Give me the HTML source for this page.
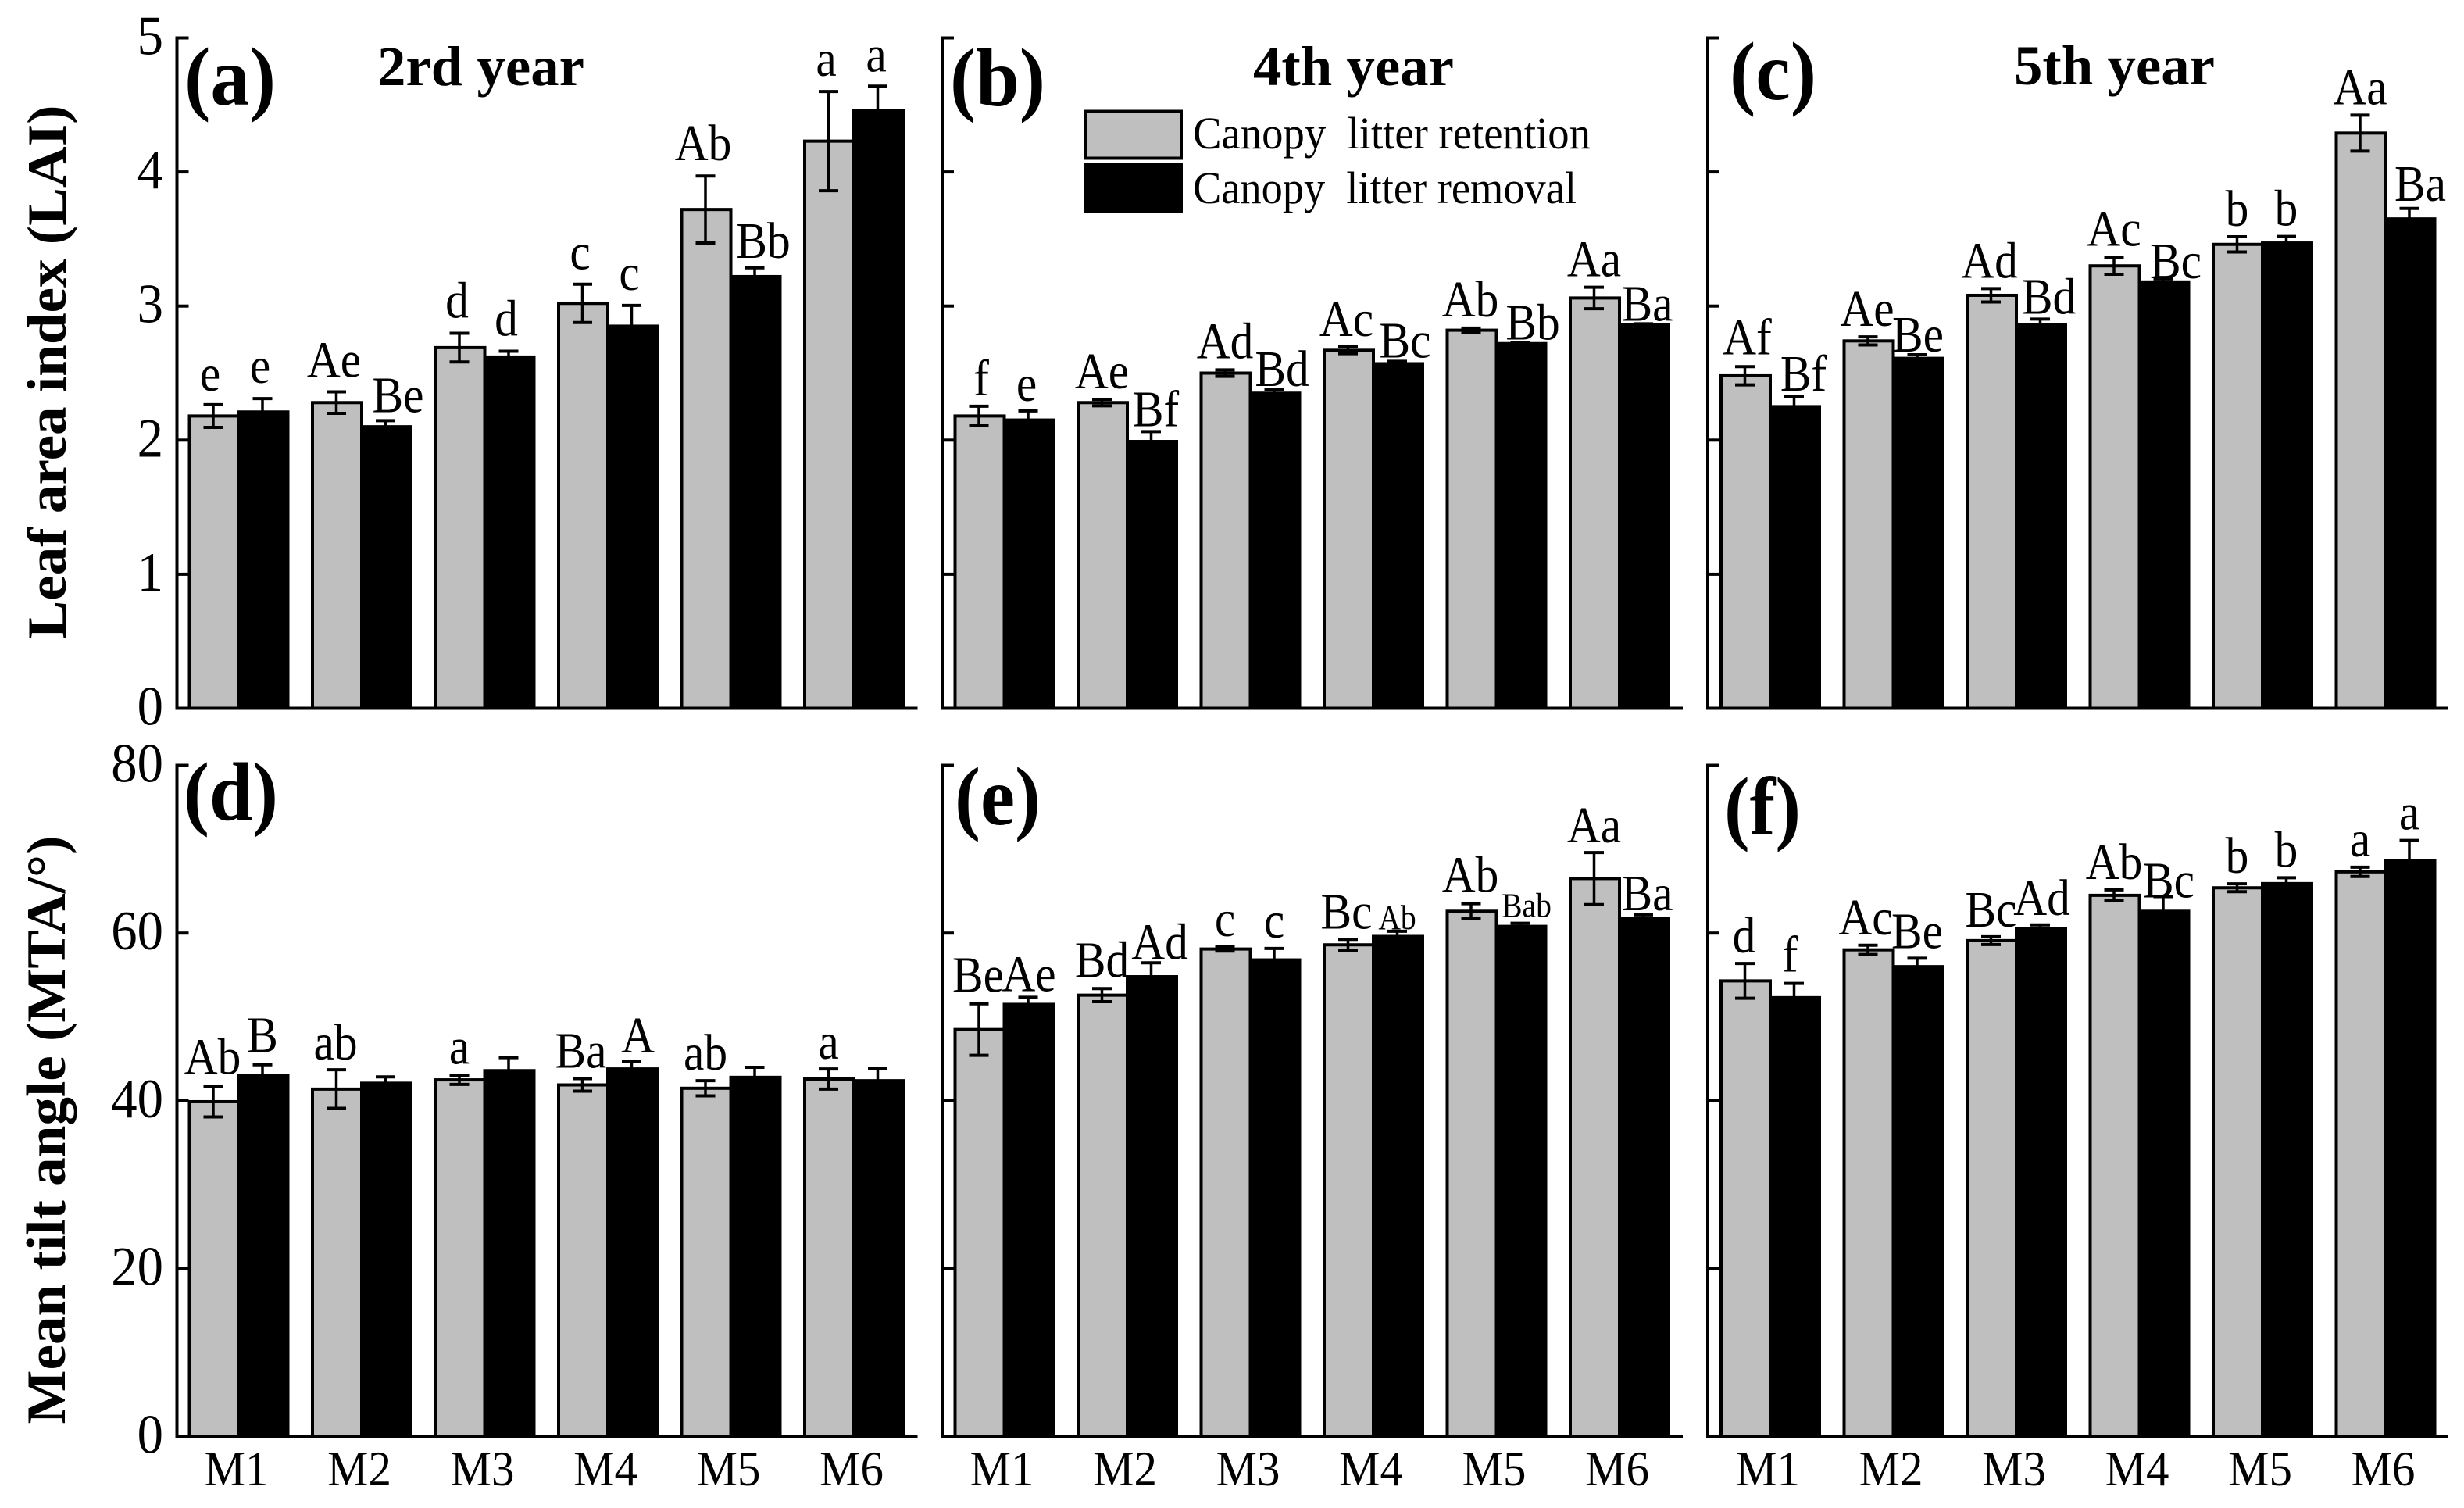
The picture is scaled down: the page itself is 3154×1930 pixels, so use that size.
<!DOCTYPE html>
<html lang="en">
<head>
<meta charset="utf-8">
<title>Leaf area index and mean tilt angle by month</title>
<style>
  html,body{margin:0;padding:0;background:#fff;}
  svg{display:block;}
  text{font-family:"Liberation Serif",serif;fill:#000;white-space:pre;}
  .bold{font-weight:bold;}
</style>
</head>
<body>
<svg id="chart" xmlns="http://www.w3.org/2000/svg" width="3154" height="1930" viewBox="0 0 3154 1930">
  <rect x="0" y="0" width="3154" height="1930" fill="#fff"/>
  <text class="bold" transform="translate(84,476) rotate(-90)" text-anchor="middle" font-size="71" textLength="683" lengthAdjust="spacingAndGlyphs">Leaf area index (LAI)</text>
  <text class="bold" transform="translate(83,1446) rotate(-90)" text-anchor="middle" font-size="71" textLength="753" lengthAdjust="spacingAndGlyphs">Mean tilt angle (MTA/°)</text>
  <text class="bold" x="483" y="109" font-size="72" textLength="265" lengthAdjust="spacingAndGlyphs">2rd year</text>
  <text class="bold" x="1604" y="109" font-size="72" textLength="257" lengthAdjust="spacingAndGlyphs">4th year</text>
  <text class="bold" x="2578" y="108" font-size="72" textLength="257" lengthAdjust="spacingAndGlyphs">5th year</text>
  <g id="plots"></g>
  <text class="bold" x="236" y="134" font-size="106" textLength="117" lengthAdjust="spacingAndGlyphs">(a)</text>
  <text class="bold" x="1216" y="135" font-size="106" textLength="122" lengthAdjust="spacingAndGlyphs">(b)</text>
  <text class="bold" x="2214" y="127" font-size="106" textLength="111" lengthAdjust="spacingAndGlyphs">(c)</text>
  <text class="bold" x="235" y="1049" font-size="106" textLength="121" lengthAdjust="spacingAndGlyphs">(d)</text>
  <text class="bold" x="1222" y="1055" font-size="106" textLength="110" lengthAdjust="spacingAndGlyphs">(e)</text>
  <text class="bold" x="2207" y="1068" font-size="106" textLength="98" lengthAdjust="spacingAndGlyphs">(f)</text>
  <g>
    <rect x="1389" y="142.5" width="123" height="60" fill="#bfbfbf" stroke="#000" stroke-width="4"/>
    <text x="1527" y="190" font-size="58" textLength="509" lengthAdjust="spacingAndGlyphs">Canopy&#160; litter retention</text>
    <rect x="1389" y="211" width="123" height="60" fill="#000" stroke="#000" stroke-width="4"/>
    <text x="1527" y="260" font-size="58" textLength="491" lengthAdjust="spacingAndGlyphs">Canopy&#160; litter removal</text>
  </g>
</svg>
<script>
// ---- chart data ----
const months = ['M1', 'M2', 'M3', 'M4', 'M5', 'M6'];
const laiTicks = [0, 1, 2, 3, 4, 5];
const mtaTicks = [0, 20, 40, 60, 80];

const laiRetentionY2 = [2.18, 2.28, 2.69, 3.02, 3.72, 4.23];
const laiRetentionErrY2 = [0.085, 0.08, 0.107, 0.143, 0.25, 0.37];
const laiRemovalY2 = [2.21, 2.10, 2.62, 2.85, 3.22, 4.46];
const laiRemovalErrY2 = [0.10, 0.045, 0.043, 0.155, 0.065, 0.18];
const laiRetentionSigY2 = ['e', 'Ae', 'd', 'c', 'Ab', 'a'];
const laiRemovalSigY2 = ['e', 'Be', 'd', 'c', 'Bb', 'a'];

const laiRetentionY4 = [2.18, 2.28, 2.50, 2.67, 2.82, 3.06];
const laiRetentionErrY4 = [0.073, 0.024, 0.024, 0.025, 0.016, 0.08];
const laiRemovalY4 = [2.15, 1.99, 2.35, 2.57, 2.72, 2.86];
const laiRemovalErrY4 = [0.068, 0.074, 0.025, 0.018, 0.008, 0.008];
const laiRetentionSigY4 = ['f', 'Ae', 'Ad', 'Ac', 'Ab', 'Aa'];
const laiRemovalSigY4 = ['e', 'Bf', 'Bd', 'Bc', 'Bb', 'Ba'];

const laiRetentionY5 = [2.48, 2.74, 3.08, 3.30, 3.46, 4.29];
const laiRetentionErrY5 = [0.068, 0.03, 0.05, 0.063, 0.057, 0.134];
const laiRemovalY5 = [2.25, 2.61, 2.86, 3.18, 3.47, 3.65];
const laiRemovalErrY5 = [0.072, 0.027, 0.043, 0.023, 0.049, 0.078];
const laiRetentionSigY5 = ['Af', 'Ae', 'Ad', 'Ac', 'b', 'Aa'];
const laiRemovalSigY5 = ['Bf', 'Be', 'Bd', 'Bc', 'b', 'Ba'];

const mtaRetentionY2 = [39.9, 41.4, 42.5, 41.9, 41.5, 42.6];
const mtaRetentionErrY2 = [1.82, 2.3, 0.54, 0.75, 0.9, 1.2];
const mtaRemovalY2 = [43.0, 42.1, 43.6, 43.8, 42.8, 42.4];
const mtaRemovalErrY2 = [1.3, 0.75, 1.55, 0.87, 1.2, 1.5];
const mtaRetentionSigY2 = ['Ab', 'ab', 'a', 'Ba', 'ab', 'a'];
const mtaRemovalSigY2 = ['B', '', '', 'A', '', ''];

const mtaRetentionY4 = [48.5, 52.6, 58.1, 58.6, 62.6, 66.5];
const mtaRetentionErrY4 = [3.07, 0.78, 0.25, 0.65, 0.9, 3.1];
const mtaRemovalY4 = [51.5, 54.8, 56.8, 59.6, 60.8, 61.7];
const mtaRemovalErrY4 = [0.84, 1.65, 1.37, 0.62, 0.37, 0.47];
const mtaRetentionSigY4 = ['Be', 'Bd', 'c', 'Bc', 'Ab', 'Aa'];
const mtaRemovalSigY4 = ['Ae', 'Ad', 'c', 'Ab', 'Bab', 'Ba'];

const mtaRetentionY5 = [54.3, 58.0, 59.1, 64.5, 65.4, 67.3];
const mtaRetentionErrY5 = [2.07, 0.55, 0.47, 0.65, 0.47, 0.55];
const mtaRemovalY5 = [52.3, 56.0, 60.5, 62.6, 65.9, 68.6];
const mtaRemovalErrY5 = [1.7, 1.0, 0.47, 1.75, 0.7, 2.45];
const mtaRetentionSigY5 = ['d', 'Ac', 'Bc', 'Ab', 'b', 'a'];
const mtaRemovalSigY5 = ['f', 'Be', 'Ad', 'Bc', 'b', 'a'];

// ---- layout ----
const PITCH = 157.5;
const BAR_W = 63;
const AXIS_LEN = 948;
function yLai(v) { return 906.5 - v * 171.6; }
function yMta(v) { return 1838.3 - v * 10.735; }

// Label placement relative to its error bar: horizontal shift, gap above cap (retention M1..M6, then removal M1..M6).
const nudgeA = [[-4,18],[-3,19],[-3,20],[-3,19],[-3,20],[-3,20],[-3,20],[16,11],[-3,20],[-3,20],[11,13],[-2,19]];
const nudgeB = [[3,14],[0,14],[0,15],[-2,14],[-1,15],[0,14],[-2,13],[6,7],[10,5],[10,5],[16,4],[5,4]];
const nudgeC = [[3,16],[-1,14],[-2,14],[0,15],[0,14],[0,14],[12,8],[1,4],[11,7],[16,1],[0,14],[14,10]];
const nudgeD = [[-1,16],[-1,13],[0,15],[-2,14],[0,14],[0,13],[0,16],[0,0],[0,0],[8,12],[0,0],[0,0]];
const nudgeE = [[-1,15],[0,15],[0,14],[-2,14],[-1,15],[0,13],[1,8],[11,5],[0,14],[0,3],[8,8],[5,6]];
const nudgeF = [[-1,14],[-3,14],[0,13],[0,14],[0,14],[0,14],[-5,15],[0,13],[2,13],[7,-1],[0,14],[0,14]];
const smallLabels = { 'e:removal:3': 44, 'e:removal:4': 44 };

const panels = [
  { id:'a', axis:226.5, first:242.5, y:yLai, ticks:laiTicks, showTicks:true, ret:laiRetentionY2, retErr:laiRetentionErrY2, rem:laiRemovalY2, remErr:laiRemovalErrY2, retSig:laiRetentionSigY2, remSig:laiRemovalSigY2, nudge:nudgeA },
  { id:'b', axis:1206, first:1222.5, y:yLai, ticks:laiTicks, showTicks:false, ret:laiRetentionY4, retErr:laiRetentionErrY4, rem:laiRemovalY4, remErr:laiRemovalErrY4, retSig:laiRetentionSigY4, remSig:laiRemovalSigY4, nudge:nudgeB },
  { id:'c', axis:2186, first:2203, y:yLai, ticks:laiTicks, showTicks:false, ret:laiRetentionY5, retErr:laiRetentionErrY5, rem:laiRemovalY5, remErr:laiRemovalErrY5, retSig:laiRetentionSigY5, remSig:laiRemovalSigY5, nudge:nudgeC },
  { id:'d', axis:226.5, first:242.5, y:yMta, ticks:mtaTicks, showTicks:true, ret:mtaRetentionY2, retErr:mtaRetentionErrY2, rem:mtaRemovalY2, remErr:mtaRemovalErrY2, retSig:mtaRetentionSigY2, remSig:mtaRemovalSigY2, nudge:nudgeD, months:true },
  { id:'e', axis:1206, first:1222.5, y:yMta, ticks:mtaTicks, showTicks:false, ret:mtaRetentionY4, retErr:mtaRetentionErrY4, rem:mtaRemovalY4, remErr:mtaRemovalErrY4, retSig:mtaRetentionSigY4, remSig:mtaRemovalSigY4, nudge:nudgeE, months:true },
  { id:'f', axis:2186, first:2203, y:yMta, ticks:mtaTicks, showTicks:false, ret:mtaRetentionY5, retErr:mtaRetentionErrY5, rem:mtaRemovalY5, remErr:mtaRemovalErrY5, retSig:mtaRetentionSigY5, remSig:mtaRemovalSigY5, nudge:nudgeF, months:true }
];

const NS = 'http://www.w3.org/2000/svg';
const plots = document.getElementById('plots');

function line(parent, x1, y1, x2, y2, width, name) {
  const el = document.createElementNS(NS, 'line');
  el.setAttribute('x1', x1);
  el.setAttribute('y1', y1);
  el.setAttribute('x2', x2);
  el.setAttribute('y2', y2);
  el.setAttribute('stroke', '#000');
  el.setAttribute('stroke-width', width);
  
  
  parent.appendChild(el);
}

function label(parent, str, x, y, size, anchor, squeeze, name) {
  const el = document.createElementNS(NS, 'text');
  el.textContent = str;
  el.setAttribute('transform', 'translate(' + x + ',' + y + ') scale(' + squeeze + ',1)');
  el.setAttribute('font-size', size);
  el.setAttribute('text-anchor', anchor);
  
  
  parent.appendChild(el);
}

function bar(parent, x, y0, yv, fill, name) {
  const el = document.createElementNS(NS, 'rect');
  el.setAttribute('x', x);
  el.setAttribute('y', Math.min(yv, y0));
  el.setAttribute('width', BAR_W);
  el.setAttribute('height', Math.abs(y0 - yv));
  el.setAttribute('fill', fill);
  el.setAttribute('stroke', '#000');
  el.setAttribute('stroke-width', 4);
  
  
  parent.appendChild(el);
}

function errorBar(parent, cx, yHigh, yLow, name) {
  line(parent, cx, yHigh, cx, yLow, 3.5, name + '-stem');
  line(parent, cx - 12.5, yHigh, cx + 12.5, yHigh, 4, name + '-cap-top');
  line(parent, cx - 12.5, yLow, cx + 12.5, yLow, 4, name + '-cap-bottom');
}

panels.forEach(function (p) {
  const g = document.createElementNS(NS, 'g');
  
  
  plots.appendChild(g);

  const y0 = p.y(0);
  const yTop = p.y(p.ticks[p.ticks.length - 1]);

  // axes and ticks
  line(g, p.axis, yTop - 2, p.axis, y0 + 2, 4, 'y-axis-line-' + p.id);
  line(g, p.axis - 2, y0, p.axis + AXIS_LEN, y0, 4, 'x-axis-line-' + p.id);
  p.ticks.forEach(function (t) {
    line(g, p.axis, p.y(t), p.axis + 15, p.y(t), 4, 'y-tick-' + p.id + '-' + t);
    if (p.showTicks) {
      label(g, String(t), 209, p.y(t) + 21, 71, 'end', 0.94, 'y-tick-label-' + p.id + '-' + t);
    }
  });

  // bars: retention first, removal drawn over it
  months.forEach(function (m, i) {
    const x = p.first + i * PITCH;
    bar(g, x, y0, p.y(p.ret[i]), '#bfbfbf', 'bar-retention-' + p.id + '-' + m);
    bar(g, x + BAR_W, y0, p.y(p.rem[i]), '#000', 'bar-removal-' + p.id + '-' + m);
  });

  // error bars and significance letters
  months.forEach(function (m, i) {
    const x = p.first + i * PITCH;
    const cxRet = x + BAR_W / 2 - 1;
    const cxRem = x + BAR_W * 1.5 - 1;
    const topRet = p.y(p.ret[i] + p.retErr[i]);
    const topRem = p.y(p.rem[i] + p.remErr[i]);
    errorBar(g, cxRet, topRet, p.y(p.ret[i] - p.retErr[i]), 'error-retention-' + p.id + '-' + m);
    errorBar(g, cxRem, topRem, p.y(p.rem[i] - p.remErr[i]), 'error-removal-' + p.id + '-' + m);

    const nr = p.nudge[i];
    const nb = p.nudge[i + 6];
    const sizeRet = smallLabels[p.id + ':retention:' + i] || 66;
    const sizeRem = smallLabels[p.id + ':removal:' + i] || 66;
    if (p.retSig[i]) {
      label(g, p.retSig[i], cxRet + nr[0], topRet - nr[1], sizeRet, 'middle', 0.9, 'sig-label-retention-' + p.id + '-' + m);
    }
    if (p.remSig[i]) {
      label(g, p.remSig[i], cxRem + nb[0], topRem - nb[1], sizeRem, 'middle', 0.9, 'sig-label-removal-' + p.id + '-' + m);
    }
    if (p.months) {
      label(g, m, x + BAR_W - 3, 1901, 64, 'middle', 0.92, 'x-tick-label-' + p.id + '-' + m);
    }
  });
});
</script>
</body>
</html>
